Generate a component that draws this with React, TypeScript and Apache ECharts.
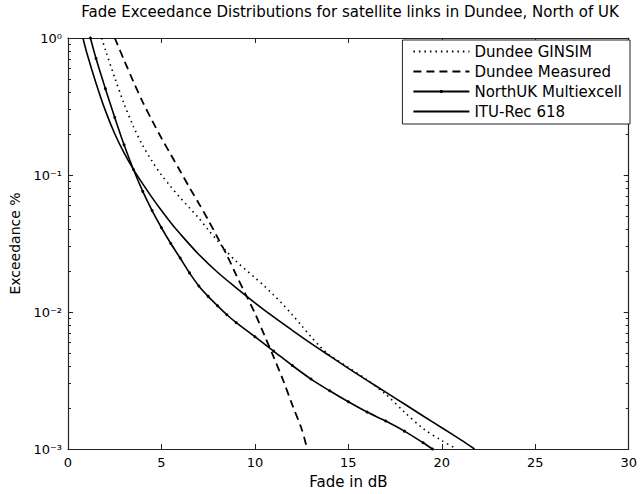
import React, { useEffect, useRef } from "react";
import * as echarts from "echarts";

const titleText = "Fade Exceedance Distributions for satellite links in Dundee, North of UK";
const xAxisName = "Fade in dB";
const yAxisName = "Exceedance %";
const seriesNames = ["Dundee GINSIM", "Dundee Measured", "NorthUK Multiexcell", "ITU-Rec 618"];
const yTickLabels: Record<string, string> = { "-3": "10\u207B\u00B3", "-2": "10\u207B\u00B2", "-1": "10\u207B\u00B9", "0": "10\u2070" };
const yMinorTickExp = [-3, -2, -1];
const yMinorMultipliers = [2, 3, 4, 5, 6, 7, 8, 9];

const ginsimX = [1.8, 2.0, 2.5, 3.0, 3.5, 4.0, 4.5, 5.0, 5.5, 6.0, 6.5, 7.0, 7.5, 8.0, 8.5, 9.0, 9.5, 10.0, 10.5, 11.0, 11.5, 12.0, 12.5, 13.0, 13.5, 14.0, 15.0, 16.0, 17.0, 18.0, 19.0, 20.0, 20.8];
const ginsimY = [1.0, 0.82, 0.513, 0.331, 0.226, 0.164, 0.126, 0.1, 0.0822, 0.0684, 0.0575, 0.0484, 0.0398, 0.0331, 0.0275, 0.0234, 0.0204, 0.0178, 0.0155, 0.0133, 0.01135, 0.00955, 0.00794, 0.0066, 0.00556, 0.00484, 0.00394, 0.0032, 0.00251, 0.00186, 0.00141, 0.00115, 0.001];

const measuredX = [2.5, 3.0, 3.5, 4.0, 4.5, 5.0, 5.5, 6.0, 6.5, 7.0, 7.5, 8.0, 8.5, 9.0, 9.5, 10.0, 10.5, 11.0, 11.5, 12.0, 12.5, 12.8];
const measuredY = [1.0, 0.69, 0.48, 0.34, 0.25, 0.186, 0.141, 0.107, 0.081, 0.062, 0.047, 0.035, 0.026, 0.0186, 0.0135, 0.0098, 0.0068, 0.0047, 0.0032, 0.0021, 0.0014, 0.001];

const multiX = [1.2, 1.5, 2.0, 2.5, 3.0, 3.5, 4.0, 4.5, 5.0, 5.5, 6.0, 6.5, 7.0, 7.5, 8.0, 8.5, 9.0, 10.0, 11.0, 12.0, 13.0, 14.0, 15.0, 16.0, 17.0, 18.0, 19.0, 19.5];
const multiY = [1.0, 0.708, 0.427, 0.263, 0.166, 0.1096, 0.0759, 0.055, 0.0412, 0.0316, 0.0248, 0.0193, 0.0155, 0.013, 0.0111, 0.00955, 0.00836, 0.0066, 0.00519, 0.00407, 0.00324, 0.00266, 0.00221, 0.00186, 0.0016, 0.00135, 0.00111, 0.001];

const ituX = [0.8, 1.0, 1.5, 2.0, 2.5, 3.0, 3.5, 4.0, 4.5, 5.0, 5.5, 6.0, 7.0, 8.0, 9.0, 10.0, 11.0, 12.0, 13.0, 14.0, 15.0, 16.0, 17.0, 18.0, 19.0, 20.0, 21.0, 21.75];
const ituY = [1.0, 0.785, 0.468, 0.295, 0.2, 0.145, 0.11, 0.0861, 0.0684, 0.055, 0.0449, 0.0372, 0.0263, 0.0195, 0.015, 0.01167, 0.0092, 0.00735, 0.0059, 0.00478, 0.00388, 0.00317, 0.0026, 0.00213, 0.00174, 0.00143, 0.00117, 0.001];

const zip = (xs: number[], ys: number[]) => xs.map((x, i) => [x, ys[i]]);

const FONT = "DejaVu Sans";
const AXIS_COLOR = "#222";

export default function App() {
  const ref = useRef<HTMLDivElement>(null);
  useEffect(() => {
    document.body.style.margin = "0";
    if (!ref.current) return;
    const chart = echarts.init(ref.current, null, { renderer: "svg" });
    const minorVals: number[] = [];
    yMinorTickExp.forEach((e) => yMinorMultipliers.forEach((m) => minorVals.push(e + Math.log10(m))));
    const axisLineStyle = { color: AXIS_COLOR, width: 1.2 };
    const majorTick = () => ({ show: true, inside: true, length: 5, lineStyle: { color: AXIS_COLOR, width: 1 } });
    const minorTick = () => ({ show: true, inside: true, length: 3, lineStyle: { color: AXIS_COLOR, width: 1 }, customValues: minorVals });
    const noLegendSymbol = { opacity: 0 };
    const xTickOnly = (position: string) => ({
      type: "value",
      min: 0,
      max: 30,
      interval: 5,
      position,
      axisLine: { show: position === "top", onZero: false, lineStyle: axisLineStyle },
      axisTick: majorTick(),
      axisLabel: { show: false },
      splitLine: { show: false },
    });
    const yLogTickOnly = (position: string) => ({
      type: "log",
      logBase: 10,
      min: 0.001,
      max: 1,
      interval: 1,
      position,
      axisLine: { show: position === "right", onZero: false, lineStyle: axisLineStyle },
      axisTick: majorTick(),
      axisLabel: { show: false },
      splitLine: { show: false },
    });
    const yMinorOnly = (position: string) => ({
      type: "value",
      min: -3,
      max: 0,
      position,
      axisLine: { show: false, onZero: false },
      axisTick: minorTick(),
      axisLabel: { show: false },
      splitLine: { show: false },
    });
    chart.setOption({
      animation: false,
      backgroundColor: "#fff",
      title: {
        text: titleText,
        left: 350,
        top: 4,
        padding: 0,
        textAlign: "center",
        textStyle: { fontFamily: FONT, fontSize: 15, fontWeight: "normal", color: "#000" },
      },
      legend: {
        orient: "vertical",
        right: 10,
        top: 40,
        data: [
          { name: seriesNames[0], itemStyle: noLegendSymbol },
          { name: seriesNames[1], itemStyle: noLegendSymbol },
          { name: seriesNames[2] },
          { name: seriesNames[3], itemStyle: noLegendSymbol },
        ],
        backgroundColor: "#fff",
        borderColor: AXIS_COLOR,
        borderWidth: 1,
        borderRadius: 0,
        padding: [4, 8, 5, 10],
        itemGap: 5,
        itemWidth: 56,
        itemHeight: 4,
        textStyle: { fontFamily: FONT, fontSize: 15, color: "#000" },
      },
      grid: { left: 68, right: 8, top: 38, bottom: 42, containLabel: false },
      xAxis: [
        {
          type: "value",
          min: 0,
          max: 30,
          interval: 5,
          position: "bottom",
          name: xAxisName,
          nameLocation: "middle",
          nameGap: 25,
          nameTextStyle: { fontFamily: FONT, fontSize: 15, color: "#000" },
          axisLine: { show: true, onZero: false, lineStyle: axisLineStyle },
          axisTick: { show: false },
          axisLabel: { fontFamily: FONT, fontSize: 13, color: "#000", margin: 7 },
          splitLine: { show: false },
        },
        xTickOnly("top"),
        xTickOnly("bottom"),
      ],
      yAxis: [
        {
          type: "log",
          logBase: 10,
          min: 0.001,
          max: 1,
          interval: 1,
          position: "left",
          name: yAxisName,
          nameLocation: "middle",
          nameRotate: 90,
          nameGap: 37,
          nameTextStyle: { fontFamily: FONT, fontSize: 14, color: "#000" },
          axisLine: { show: true, onZero: false, lineStyle: axisLineStyle },
          axisTick: { show: false },
          axisLabel: {
            fontFamily: FONT,
            fontSize: 13,
            color: "#000",
            margin: 6,
            formatter: (v: number) => yTickLabels[String(Math.round(Math.log10(v)))] ?? "",
          },
          splitLine: { show: false },
        },
        yMinorOnly("left"),
        yLogTickOnly("right"),
        yMinorOnly("right"),
        yLogTickOnly("left"),
      ],
      series: [
        {
          name: seriesNames[0],
          type: "line",
          data: zip(ginsimX, ginsimY),
          symbol: "none",
          smooth: 0.3,
          lineStyle: { color: "#000", width: 1.6, type: [1.5, 4] },
          itemStyle: { color: "#000" },
        },
        {
          name: seriesNames[1],
          type: "line",
          data: zip(measuredX, measuredY),
          symbol: "none",
          smooth: 0.3,
          lineStyle: { color: "#000", width: 1.8, type: [8, 5] },
          itemStyle: { color: "#000" },
        },
        {
          name: seriesNames[2],
          type: "line",
          data: zip(multiX, multiY),
          symbol: "circle",
          symbolSize: 3,
          showSymbol: true,
          smooth: 0.3,
          lineStyle: { color: "#000", width: 1.6 },
          itemStyle: { color: "#000" },
        },
        {
          name: seriesNames[3],
          type: "line",
          data: zip(ituX, ituY),
          symbol: "none",
          smooth: 0.3,
          lineStyle: { color: "#000", width: 1.6 },
          itemStyle: { color: "#000" },
        },
      ],
    });
    return () => chart.dispose();
  }, []);
  return <div ref={ref} style={{ width: 640, height: 494 }} />;
}
